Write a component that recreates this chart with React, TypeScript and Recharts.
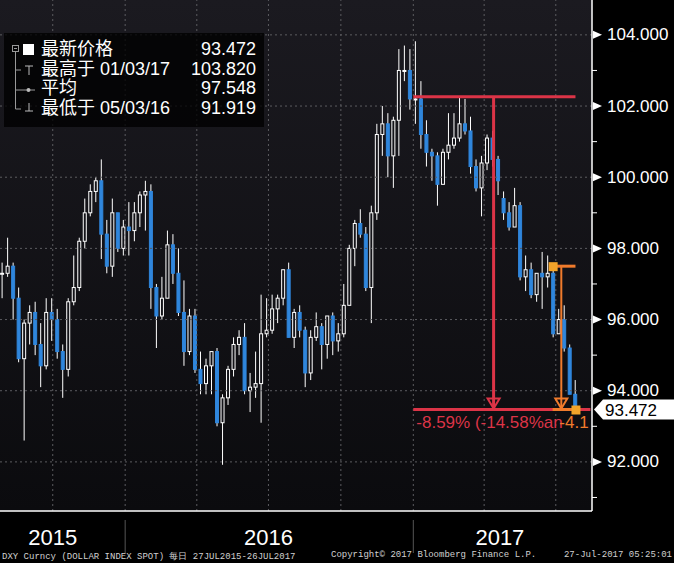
import React from "react";
import {
  ComposedChart,
  Bar,
  XAxis,
  YAxis,
  CartesianGrid,
  ReferenceLine,
  ReferenceDot,
} from "recharts";

// weekly OHLC of DXY, weeks starting Mon 27 Jul 2015 .. Mon 24 Jul 2017
const opens = [
  97.3, 97.3, 97.5, 96.6, 94.9, 95.9, 96.2, 95.3, 94.7, 96.2,
  96.0, 95.1, 94.6, 96.5, 96.9, 98.2, 99.0, 99.6, 99.9, 98.4,
  97.5, 99.0, 98.0, 98.6, 98.5, 99.0, 99.5, 99.6, 96.9, 96.1,
  96.6, 98.1, 97.3, 96.2, 95.1, 96.1, 94.6, 94.2, 94.7, 95.1,
  93.1, 93.8, 94.6, 95.3, 95.5, 94.0, 94.1, 94.2, 95.6, 95.7,
  96.3, 96.6, 97.4, 95.5, 96.2, 95.7, 94.5, 95.5, 95.8, 95.3,
  96.1, 95.4, 95.6, 96.4, 98.0, 98.7, 98.4, 96.9, 99.0, 101.2,
  101.5, 100.6, 101.6, 103.0, 103.0, 102.2, 102.2, 101.2, 100.7, 100.6,
  99.8, 100.7, 100.9, 101.1, 101.5, 101.3, 100.3, 99.7, 100.4, 101.1,
  100.5, 99.4, 99.0, 98.6, 99.2, 97.2, 97.4, 96.7, 97.3, 97.2,
  97.3, 95.6, 96.0, 95.2, 93.9,
];
const highs = [
  97.6, 98.3, 97.6, 96.9, 96.0, 96.4, 96.5, 95.9, 96.6, 96.6,
  96.3, 95.3, 96.6, 97.8, 98.3, 99.4, 99.8, 100.0, 100.5, 98.8,
  99.4, 99.0, 98.8, 99.3, 99.3, 99.6, 99.9, 99.8, 97.0, 97.2,
  98.5, 98.4, 98.0, 97.1, 96.3, 96.3, 95.1, 94.9, 95.1, 95.2,
  93.9, 94.7, 95.5, 95.7, 95.9, 94.5, 95.1, 96.7, 96.6, 96.7,
  96.7, 97.4, 97.6, 96.3, 96.4, 95.8, 95.7, 96.2, 95.9, 96.1,
  96.2, 95.9, 97.0, 98.1, 98.8, 99.1, 98.6, 99.2, 101.5, 102.0,
  101.8, 101.7, 103.6, 103.7, 103.6, 103.82, 102.7, 101.6, 100.8, 100.7,
  100.8, 101.8, 101.8, 102.26, 102.2, 101.7, 100.5, 100.6, 101.2, 101.3,
  100.6, 99.6, 99.3, 99.7, 99.3, 97.8, 97.6, 97.3, 97.9, 97.8,
  97.5, 96.3, 96.4, 95.3, 94.3,
];
const lows = [
  96.6, 97.2, 96.0, 94.8, 92.6, 95.3, 95.0, 94.1, 94.6, 95.4,
  94.9, 93.8, 94.4, 96.4, 96.8, 98.0, 98.9, 99.3, 97.7, 97.3,
  97.2, 97.9, 97.8, 97.8, 98.2, 98.6, 98.5, 96.3, 95.2, 96.0,
  96.6, 97.0, 96.1, 94.7, 95.0, 94.5, 93.9, 93.9, 93.9, 93.0,
  91.919, 93.6, 94.4, 95.0, 93.9, 93.4, 93.8, 93.1, 95.5, 95.6,
  95.9, 96.4, 95.5, 95.2, 95.5, 94.1, 94.3, 95.4, 94.6, 94.9,
  95.0, 95.1, 95.5, 96.4, 97.5, 98.3, 96.8, 95.9, 98.8, 100.6,
  100.0, 99.7, 100.6, 102.7, 101.9, 101.5, 100.8, 100.3, 99.9, 99.2,
  99.8, 100.5, 100.8, 101.0, 101.2, 100.1, 99.6, 98.9, 100.2, 100.3,
  99.5, 98.8, 98.5, 98.6, 97.1, 96.8, 96.6, 96.5, 96.3, 96.9,
  95.5, 95.6, 95.1, 93.9, 93.4,
];
const closes = [
  97.3, 97.5, 96.6, 94.9, 95.9, 96.2, 95.3, 94.7, 96.2, 96.0,
  95.1, 94.6, 96.5, 96.9, 98.2, 99.0, 99.6, 99.9, 98.4, 97.5,
  99.0, 98.0, 98.6, 98.5, 99.0, 99.5, 99.6, 96.9, 96.1, 96.6,
  98.1, 97.3, 96.2, 95.1, 96.1, 94.6, 94.2, 94.7, 95.1, 93.1,
  93.8, 94.6, 95.3, 95.5, 94.0, 94.1, 94.2, 95.6, 95.7, 96.3,
  96.6, 97.4, 95.5, 96.2, 95.7, 94.5, 95.5, 95.8, 95.3, 96.1,
  95.4, 95.6, 96.4, 98.0, 98.7, 98.4, 96.9, 99.0, 101.2, 101.5,
  100.6, 101.6, 103.0, 103.0, 102.2, 102.2, 101.2, 100.7, 100.6, 99.8,
  100.7, 100.9, 101.1, 101.5, 101.3, 100.3, 99.7, 100.4, 101.1, 100.5,
  99.9, 99.0, 98.6, 99.2, 97.2, 97.4, 96.7, 97.3, 97.2, 97.3,
  95.6, 96.0, 95.2, 93.9, 93.472,
];

const LAST = 93.472;
const majorTicks = [92, 94, 96, 98, 100, 102, 104];
const minorTicks = [91, 93, 95, 97, 99, 101, 103];

// annotations (prices and dates)
const redTop = 102.26;
const redFrom = "2017-01-01";
const redArrow = "2017-04-13";
const redTo = "2017-08-14";
const orangeTop = 97.5;
const orangeFrom = "2017-06-27";
const orangeArrow = "2017-07-08";
const orangeTo = "2017-07-26";
const redText = "-8.59% (-14.58%an";
const orangeText = "-4.1";

const years = [
  { label: "2015", at: "2015-10-01" },
  { label: "2016", at: "2016-07-01" },
  { label: "2017", at: "2017-04-21" },
];
const yearBreaks = ["2016-01-01", "2017-01-01"];

const START = Date.UTC(2015, 6, 27);
const dayOf = (s: string) => Math.round((Date.parse(s + "T00:00:00Z") - START) / 86400000);

const data = closes.map((c, i) => ({
  t: i * 7 + 2,
  range: [lows[i], highs[i]],
  o: opens[i],
  h: highs[i],
  l: lows[i],
  c,
}));

const monthTicks: number[] = [];
const quarterTicks: number[] = [];
for (let y = 2015; y <= 2017; y++) {
  for (let m = 0; m < 12; m++) {
    const d = Math.round((Date.UTC(y, m, 1) - START) / 86400000);
    if (d < 0 || d > 740) continue;
    monthTicks.push(d);
    if (m % 3 === 0) quarterTicks.push(d);
  }
}

const BLUE = "#2f86dc";
const RED = "#dc3447";
const ORANGE = "#f07b2c";
const GOLD = "#f3a42a";
const FONT = "'Liberation Sans', Arial, sans-serif";

function Candle(props: any) {
  const { x, y, width, height, payload } = props;
  if (!payload) return null;
  const top = Math.min(y, y + height);
  const bot = Math.max(y, y + height);
  const { o, h, l, c } = payload;
  const span = h - l || 1;
  const py = (v: number) => top + ((h - v) / span) * (bot - top);
  const cx = x + width / 2;
  const up = c >= o;
  const bt = py(Math.max(o, c));
  const bb = py(Math.min(o, c));
  return (
    <g>
      <line x1={cx} x2={cx} y1={top} y2={bot} stroke="#fff" strokeWidth={1} />
      <rect
        x={x}
        y={bt}
        width={width}
        height={Math.max(1, bb - bt)}
        fill={up ? "#141419" : BLUE}
        stroke={up ? "#fff" : BLUE}
        strokeWidth={1}
      />
    </g>
  );
}

function YTick(props: any) {
  const { x, y, payload } = props;
  const v = payload.value;
  if (v === LAST) {
    return (
      <g>
        <path d={`M${x + 2},${y} L${x + 11},${y - 10} L${x + 90},${y - 10} L${x + 90},${y + 10} L${x + 11},${y + 10} Z`} fill="#fff" />
        <text x={x + 13} y={y + 1} fill="#000" fontSize={17} fontFamily={FONT} dominantBaseline="central">
          {v.toFixed(3)}
        </text>
      </g>
    );
  }
  if (majorTicks.includes(v)) {
    return (
      <g>
        <path d={`M${x + 1},${y - 4} L${x + 10},${y} L${x + 1},${y + 4} Z`} fill="#fff" />
        <text x={x + 15} y={y} fill="#fff" fontSize={17} fontFamily={FONT} dominantBaseline="central">
          {v.toFixed(3)}
        </text>
      </g>
    );
  }
  return <line x1={x} x2={x + 5} y1={y} y2={y} stroke="#fff" strokeWidth={1} />;
}

function YearTick(props: any) {
  const { x, y, payload } = props;
  const v = payload.value;
  if (yearBreaks.map(dayOf).includes(v)) {
    return <line x1={x} x2={x} y1={y + 1} y2={y + 34} stroke="#555" strokeWidth={1} />;
  }
  const yr = years.find((e) => dayOf(e.at) === v);
  return (
    <text x={x} y={y + 18} fill="#fff" fontSize={22} fontFamily="'Liberation Sans Narrow', 'Liberation Sans', sans-serif" textAnchor="middle" dominantBaseline="central">
      {yr ? yr.label : ""}
    </text>
  );
}

const arrowHead = (color: string) => (p: any) => (
  <path d={`M${p.cx - 6},${p.cy - 11} L${p.cx + 6},${p.cy - 11} L${p.cx},${p.cy - 1} Z`} fill="none" stroke={color} strokeWidth={2} />
);
const square = (p: any) => <rect x={p.cx - 4} y={p.cy - 4} width={9} height={9} fill={GOLD} />;

export default function App() {
  const yearTicks = [...years.map((e) => dayOf(e.at)), ...yearBreaks.map(dayOf)].sort((a, b) => a - b);
  return (
    <div style={{ position: "absolute", left: 0, top: 0, width: 674, height: 563, background: "#000", overflow: "hidden" }}>
      <ComposedChart width={674} height={563} data={data} margin={{ top: 0, right: 0, bottom: 0, left: 0 }}>
        <defs>
          <linearGradient id="bg" x1="0" y1="0" x2="0" y2="1">
            <stop offset="0%" stopColor="#1b1a20" />
            <stop offset="100%" stopColor="#0b0b0e" />
          </linearGradient>
          <clipPath id="plotClip">
            <rect x={0} y={0} width={592} height={511} />
          </clipPath>
        </defs>
        <CartesianGrid xAxisId="a" horizontal={false} vertical={false} fill="url(#bg)" />
        <XAxis
          xAxisId="a"
          type="number"
          dataKey="t"
          domain={[-1, 751]}
          ticks={monthTicks}
          interval={0}
          tick={false}
          tickSize={7}
          height={8}
          axisLine={{ stroke: "#fff", strokeWidth: 1.5 }}
          tickLine={{ stroke: "#fff" }}
          allowDataOverflow
        />
        <XAxis
          xAxisId="b"
          type="number"
          dataKey="t"
          domain={[-1, 751]}
          ticks={yearTicks}
          interval={0}
          tick={<YearTick />}
          tickSize={0}
          tickMargin={0}
          height={44}
          axisLine={false}
          tickLine={false}
          allowDataOverflow
        />
        <YAxis
          orientation="right"
          domain={[90.62, 104.98]}
          allowDataOverflow
          ticks={[...minorTicks, ...majorTicks, LAST]}
          interval={0}
          width={82}
          tickSize={0}
          tickMargin={0}
          tick={<YTick />}
          axisLine={{ stroke: "#fff", strokeWidth: 1.5 }}
          tickLine={false}
        />
        {majorTicks.map((v) => (
          <ReferenceLine key={"h" + v} xAxisId="a" y={v} stroke="#5c5c60" strokeDasharray="2 3" />
        ))}
        {quarterTicks.map((d) => (
          <ReferenceLine key={"v" + d} xAxisId="a" x={d} stroke="#5c5c60" strokeDasharray="2 3" />
        ))}
        <Bar xAxisId="a" dataKey="range" barSize={3} shape={<Candle />} isAnimationActive={false} />

        {/* red move from the March high */}
        <ReferenceLine xAxisId="a" segment={[{ x: dayOf(redFrom), y: redTop }, { x: dayOf("2017-07-26"), y: redTop }]} stroke={RED} strokeWidth={3} />
        <ReferenceLine xAxisId="a" segment={[{ x: dayOf(redArrow), y: redTop }, { x: dayOf(redArrow), y: LAST }]} stroke={RED} strokeWidth={3} />
        <ReferenceLine xAxisId="a" segment={[{ x: dayOf(redFrom), y: LAST }, { x: dayOf(redTo), y: LAST }]} stroke={RED} strokeWidth={3} ifOverflow="hidden" />
        <ReferenceDot xAxisId="a" x={dayOf(redArrow)} y={LAST} shape={arrowHead(RED)} />

        {/* orange move from the late-June level */}
        <ReferenceLine xAxisId="a" segment={[{ x: dayOf(orangeFrom), y: orangeTop }, { x: dayOf(orangeTo), y: orangeTop }]} stroke={ORANGE} strokeWidth={3} />
        <ReferenceLine xAxisId="a" segment={[{ x: dayOf(orangeArrow), y: orangeTop }, { x: dayOf(orangeArrow), y: LAST }]} stroke={ORANGE} strokeWidth={2} />
        <ReferenceLine xAxisId="a" segment={[{ x: dayOf(orangeFrom), y: LAST }, { x: dayOf(orangeTo), y: LAST }]} stroke={ORANGE} strokeWidth={3} />
        <ReferenceDot xAxisId="a" x={dayOf(orangeArrow)} y={LAST} shape={arrowHead(ORANGE)} />
        <ReferenceDot xAxisId="a" x={dayOf(orangeFrom)} y={orangeTop} shape={square} />
        <ReferenceDot xAxisId="a" x={dayOf(orangeTo)} y={LAST} shape={square} />

        <ReferenceDot
          xAxisId="a"
          x={dayOf(redFrom)}
          y={LAST}
          shape={(p: any) => (
            <g clipPath="url(#plotClip)">
              <text x={p.cx + 3} y={p.cy + 13} fill={RED} fontSize={17} fontFamily={FONT} dominantBaseline="central">
                {redText}
              </text>
            </g>
          )}
        />
        <ReferenceDot
          xAxisId="a"
          x={dayOf(orangeArrow)}
          y={LAST}
          shape={(p: any) => (
            <g clipPath="url(#plotClip)">
              <text x={p.cx - 2} y={p.cy + 13} fill={ORANGE} fontSize={17} fontFamily={FONT} dominantBaseline="central">
                {orangeText}
              </text>
            </g>
          )}
        />
      </ComposedChart>

      {/* legend box */}
      <div
        style={{
          position: "absolute",
          left: 4,
          top: 33,
          width: 260,
          height: 94,
          background: "rgba(0,0,0,0.78)",
          fontFamily: "'Liberation Sans', 'Noto Sans CJK SC', sans-serif",
          fontSize: 18,
          color: "#fff",
        }}
      >
        <svg width={40} height={94} style={{ position: "absolute", left: 0, top: 0 }}>
          <rect x={8.5} y={12.5} width={6} height={6} fill="none" stroke="#999" />
          <line x1={10} x2={13} y1={15.5} y2={15.5} stroke="#999" />
          <rect x={19} y={11} width={11} height={11} fill="#fff" />
          <line x1={11.5} x2={11.5} y1={19} y2={76} stroke="#999" />
          <line x1={11.5} x2={17} y1={37} y2={37} stroke="#999" />
          <line x1={21} x2={29} y1={33} y2={33} stroke="#bbb" />
          <line x1={25} x2={25} y1={33} y2={42} stroke="#bbb" />
          <line x1={11.5} x2={31} y1={57} y2={57} stroke="#999" />
          <circle cx={24.5} cy={57} r={2} fill="#bbb" />
          <line x1={11.5} x2={17} y1={76} y2={76} stroke="#999" />
          <line x1={25} x2={25} y1={70} y2={78} stroke="#bbb" />
          <line x1={21} x2={29} y1={78} y2={78} stroke="#bbb" />
        </svg>
        {[
          ["最新价格", "93.472"],
          ["最高于 01/03/17", "103.820"],
          ["平均", "97.548"],
          ["最低于 05/03/16", "91.919"],
        ].map(([k, v], i) => (
          <div
            key={k}
            style={{ position: "absolute", left: 37, right: 8, top: 6 + i * 19.7, height: 20, lineHeight: "20px", display: "flex", justifyContent: "space-between", whiteSpace: "nowrap" }}
          >
            <span>{k}</span>
            <span>{v}</span>
          </div>
        ))}
      </div>

      {/* footer */}
      <div style={{ position: "absolute", top: 550, left: 0, width: 674, height: 13, fontFamily: "'Liberation Mono', monospace", fontSize: 9, color: "#d0d0d0", whiteSpace: "nowrap" }}>
        <span style={{ position: "absolute", left: 2 }}>DXY Curncy (DOLLAR INDEX SPOT)  每日 27JUL2015-26JUL2017</span>
        <span style={{ position: "absolute", left: 331 }}>Copyright© 2017 Bloomberg Finance L.P.</span>
        <span style={{ position: "absolute", right: 2 }}>27-Jul-2017 05:25:01</span>
      </div>
    </div>
  );
}
